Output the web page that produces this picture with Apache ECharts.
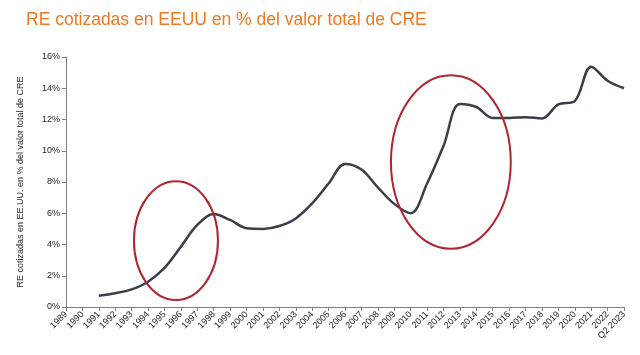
<!DOCTYPE html>
<html><head><meta charset="utf-8">
<script src="https://cdn.jsdelivr.net/npm/echarts@6/dist/echarts.min.js"></script>
<style>html,body{margin:0;padding:0;background:#fff}#c{width:640px;height:355px}</style>
</head><body><div id="c"></div>
<script>
const categories = ['1989','1990','1991','1992','1993','1994','1995','1996','1997','1998','1999','2000','2001','2002','2003','2004','2005','2006','2007','2008','2009','2010','2011','2012','2013','2014','2015','2016','2017','2018','2019','2020','2021','2022','Q2 2023'];
const shareValues = [null,null,0.72,0.88,1.13,1.62,2.5,3.86,5.25,5.95,5.57,5.04,5.0,5.18,5.67,6.63,7.9,9.15,8.8,7.66,6.6,6.0,7.9,10.3,13.0,12.8,12.1,12.1,12.15,12.07,12.97,13.18,15.38,14.48,14.0];
const yTicks = [0,2,4,6,8,10,12,14,16];
// annotation ellipses in data space: [centre category index, centre %, half-width in categories, half-height in %]
const ellipseAreas = [[6.7,4.25,2.56,3.8],[23.45,9.28,3.65,5.55]];

const chart = echarts.init(document.getElementById('c'));
const option = {
  animation:false,
  title:{text:'RE cotizadas en EEUU en % del valor total de CRE',left:21,top:6,
    textStyle:{color:'#f07820',fontFamily:'Liberation Sans, Arial, sans-serif',fontWeight:'normal',fontSize:17.5}},
  grid:{left:66,right:16,top:57,bottom:48},
  xAxis:{type:'category',data:categories,boundaryGap:false,
    axisLine:{lineStyle:{color:'#808080'}},
    axisTick:{alignWithLabel:true,length:4,lineStyle:{color:'#808080'}},
    axisLabel:{interval:0,rotate:45,fontSize:9,color:'#222',margin:6,fontFamily:'Liberation Sans, Arial, sans-serif'}},
  yAxis:{type:'value',min:0,max:16,interval:2,
    name:'RE cotizadas en EE.UU. en % del valor total de CRE',nameLocation:'middle',nameGap:41,
    nameTextStyle:{fontSize:9,color:'#222',fontFamily:'Liberation Sans, Arial, sans-serif'},
    axisLine:{show:true,lineStyle:{color:'#808080'}},
    axisTick:{show:true,length:4,lineStyle:{color:'#808080'}},
    splitLine:{show:false},
    axisLabel:{formatter:v=>v+'%',fontSize:9,color:'#222',margin:6,fontFamily:'Liberation Sans, Arial, sans-serif'}},
  series:[{type:'line',data:shareValues,smooth:0.35,symbol:'none',connectNulls:false,
    lineStyle:{color:'#3a3e4a',width:2.5}}]
};
chart.setOption(option);
const p0 = chart.convertToPixel({gridIndex:0},[0,0]);
const p1 = chart.convertToPixel({gridIndex:0},[1,1]);
const dx = p1[0]-p0[0], dy = p0[1]-p1[1];
const els = ellipseAreas.map(e=>({type:'ellipse',
  shape:{cx:p0[0]+e[0]*dx,cy:p0[1]-e[1]*dy,rx:e[2]*dx,ry:e[3]*dy},
  style:{fill:'none',stroke:'#b22430',lineWidth:2},z:10}));
chart.setOption({graphic:{elements:els}});
</script></body></html>
